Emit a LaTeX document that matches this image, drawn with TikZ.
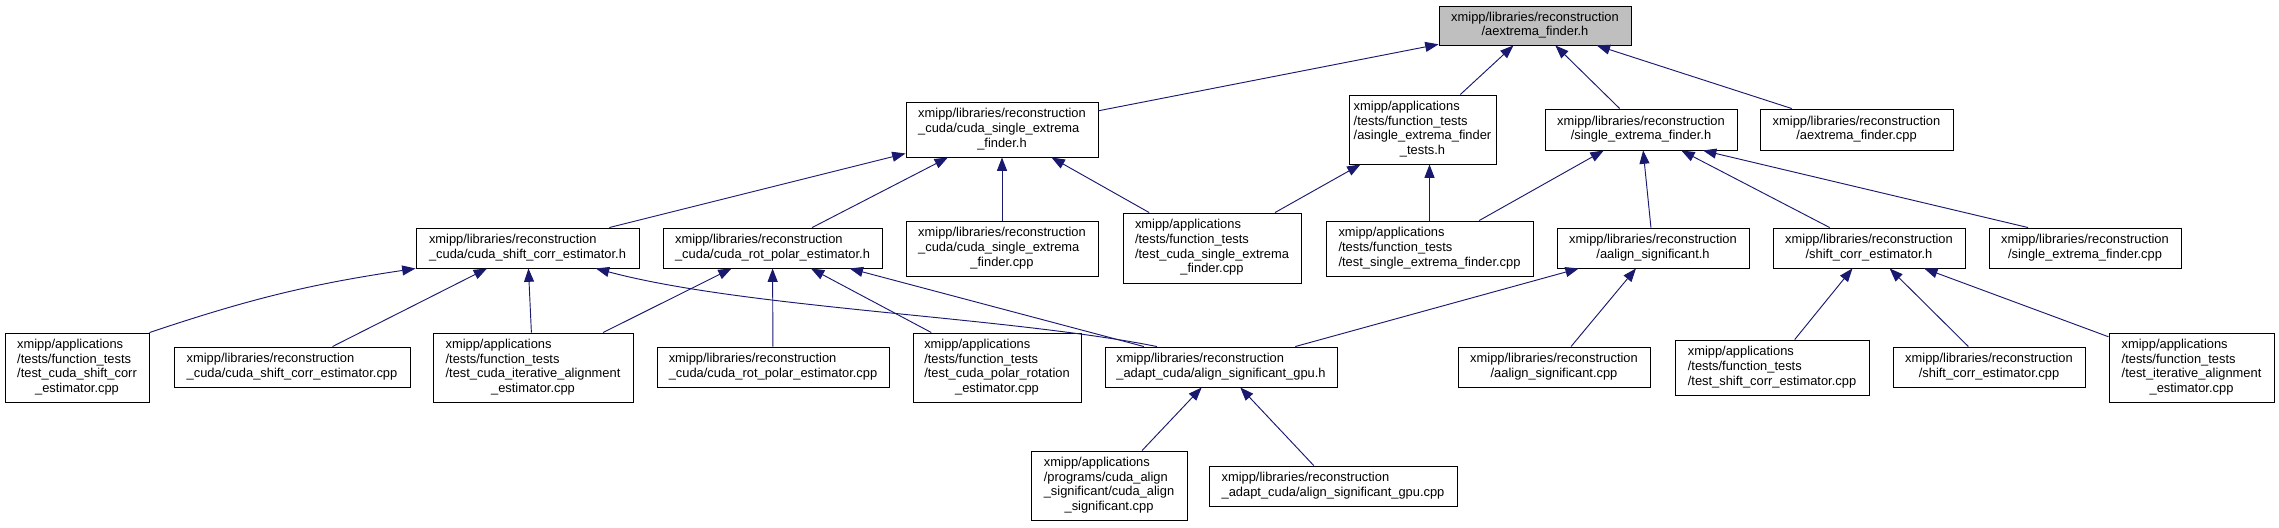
\documentclass[tikz,border=0pt]{standalone}
\usepackage{fontspec}
\setmainfont{Liberation Sans}
\usepackage{tikz}
\usetikzlibrary{arrows.meta}
\definecolor{dEdge}{HTML}{191970}
\definecolor{dGray}{HTML}{BFBFBF}
% file label: lines left aligned, last line centred
\newcommand{\flabel}[1]{\begin{tabular}{@{}l@{}}#1\end{tabular}}
\newcommand{\lastl}[1]{\multicolumn{1}{@{}c@{}}{#1}}
\tikzset{
  fnode/.style={draw=black,fill=white,line width=0.8pt,inner sep=0pt,
    font=\fontsize{11}{12.5}\selectfont},
  h2/.style={minimum height=1.2cm},
  h3/.style={minimum height=1.65cm},
  h4/.style={minimum height=2.07cm},
  dep/.style={-{Triangle[length=0.4cm,width=0.3cm]},color=dEdge,line width=0.8pt},
}
\begin{document}
\begin{tikzpicture}[x=0.03cm,y=-0.03cm]
  \useasboundingbox (0,0) rectangle (2279,527);
  % top
  \node[fnode,fill=dGray,minimum width=5.76cm,minimum height=1.17cm] (aexth) at (1535,25.5) {\flabel{xmipp/libraries/reconstruction\\\lastl{/aextrema\_finder.h}}};
  % row 1
  \node[fnode,h3,minimum width=5.76cm] (cusefh) at (1002,129.5) {\flabel{xmipp/libraries/reconstruction\\\_cuda/cuda\_single\_extrema\\\lastl{\_finder.h}}};
  \node[fnode,h4,minimum width=4.41cm] (asefth) at (1422.5,129.5) {\flabel{xmipp/applications\\/tests/function\_tests\\/asingle\_extrema\_finder\\\lastl{\_tests.h}}};
  \node[fnode,minimum width=5.76cm,minimum height=1.23cm] (sefh) at (1641,129.5) {\flabel{xmipp/libraries/reconstruction\\\lastl{/single\_extrema\_finder.h}}};
  \node[fnode,minimum width=5.79cm,minimum height=1.23cm] (aextcpp) at (1856.5,129.5) {\flabel{xmipp/libraries/reconstruction\\\lastl{/aextrema\_finder.cpp}}};
  % row 2
  \node[fnode,h2,minimum width=6.69cm] (cuscoh) at (527.5,248) {\flabel{xmipp/libraries/reconstruction\\\lastl{\_cuda/cuda\_shift\_corr\_estimator.h}}};
  \node[fnode,h2,minimum width=6.57cm] (curoth) at (772.5,248) {\flabel{xmipp/libraries/reconstruction\\\lastl{\_cuda/cuda\_rot\_polar\_estimator.h}}};
  \node[fnode,h3,minimum width=5.76cm] (cusefcpp) at (1002,248.5) {\flabel{xmipp/libraries/reconstruction\\\_cuda/cuda\_single\_extrema\\\lastl{\_finder.cpp}}};
  \node[fnode,minimum width=5.34cm,minimum height=2.1cm] (tcusef) at (1212,248) {\flabel{xmipp/applications\\/tests/function\_tests\\/test\_cuda\_single\_extrema\\\lastl{\_finder.cpp}}};
  \node[fnode,h3,minimum width=6.21cm] (tsef) at (1429.5,248.5) {\flabel{xmipp/applications\\/tests/function\_tests\\\lastl{/test\_single\_extrema\_finder.cpp}}};
  \node[fnode,h2,minimum width=5.76cm] (aalh) at (1653,248) {\flabel{xmipp/libraries/reconstruction\\\lastl{/aalign\_significant.h}}};
  \node[fnode,h2,minimum width=5.76cm] (scoh) at (1869,248) {\flabel{xmipp/libraries/reconstruction\\\lastl{/shift\_corr\_estimator.h}}};
  \node[fnode,h2,minimum width=5.76cm] (sefcpp) at (2085,248) {\flabel{xmipp/libraries/reconstruction\\\lastl{/single\_extrema\_finder.cpp}}};
  % row 3
  \node[fnode,h4,minimum width=4.32cm] (tcusco) at (77,367.5) {\flabel{xmipp/applications\\/tests/function\_tests\\/test\_cuda\_shift\_corr\\\lastl{\_estimator.cpp}}};
  \node[fnode,h2,minimum width=7.08cm] (cuscocpp) at (292,367) {\flabel{xmipp/libraries/reconstruction\\\lastl{\_cuda/cuda\_shift\_corr\_estimator.cpp}}};
  \node[fnode,h4,minimum width=6.0cm] (tcuiter) at (533,367.5) {\flabel{xmipp/applications\\/tests/function\_tests\\/test\_cuda\_iterative\_alignment\\\lastl{\_estimator.cpp}}};
  \node[fnode,h2,minimum width=6.96cm] (curotcpp) at (773,367) {\flabel{xmipp/libraries/reconstruction\\\lastl{\_cuda/cuda\_rot\_polar\_estimator.cpp}}};
  \node[fnode,h4,minimum width=5.04cm] (tcupolar) at (997,367.5) {\flabel{xmipp/applications\\/tests/function\_tests\\/test\_cuda\_polar\_rotation\\\lastl{\_estimator.cpp}}};
  \node[fnode,h2,minimum width=6.96cm] (asgpuh) at (1221,367) {\flabel{xmipp/libraries/reconstruction\\\lastl{\_adapt\_cuda/align\_significant\_gpu.h}}};
  \node[fnode,h2,minimum width=5.76cm] (aalcpp) at (1554,367) {\flabel{xmipp/libraries/reconstruction\\\lastl{/aalign\_significant.cpp}}};
  \node[fnode,h3,minimum width=5.82cm] (tsco) at (1772,367.5) {\flabel{xmipp/applications\\/tests/function\_tests\\\lastl{/test\_shift\_corr\_estimator.cpp}}};
  \node[fnode,h2,minimum width=5.76cm] (scocpp) at (1989,367) {\flabel{xmipp/libraries/reconstruction\\\lastl{/shift\_corr\_estimator.cpp}}};
  \node[fnode,h4,minimum width=4.95cm] (titer) at (2191.5,367.5) {\flabel{xmipp/applications\\/tests/function\_tests\\/test\_iterative\_alignment\\\lastl{\_estimator.cpp}}};
  % row 4
  \node[fnode,h4,minimum width=4.68cm] (cuasig) at (1109,485.5) {\flabel{xmipp/applications\\/programs/cuda\_align\\\_significant/cuda\_align\\\lastl{\_significant.cpp}}};
  \node[fnode,h2,minimum width=7.44cm] (asgpucpp) at (1333,486) {\flabel{xmipp/libraries/reconstruction\\\lastl{\_adapt\_cuda/align\_significant\_gpu.cpp}}};
  % include edges
  \draw[dep] (cusefh) -- (aexth);
  \draw[dep] (asefth) -- (aexth);
  \draw[dep] (sefh) -- (aexth);
  \draw[dep] (aextcpp) -- (aexth);
  \draw[dep] (cuscoh) -- (cusefh);
  \draw[dep] (curoth) -- (cusefh);
  \draw[dep] (cusefcpp) -- (cusefh);
  \draw[dep] (tcusef) -- (cusefh);
  \draw[dep] (tcusef) -- (asefth);
  \draw[dep] (tsef.north) -- (tsef.north |- asefth.south);
  \draw[dep] (tsef) -- (sefh);
  \draw[dep] (aalh) -- (sefh);
  \draw[dep] (scoh) -- (sefh);
  \draw[dep] ([xshift=-1.71cm]sefcpp.north) -- ([xshift=1.86cm]sefh.south);
  \draw[dep] (tcusco.north east) to[bend left=5] (cuscoh.south west);
  \draw[dep] (cuscocpp) -- (cuscoh);
  \draw[dep] (tcuiter) -- (cuscoh);
  \draw[dep] ([xshift=-1.92cm]asgpuh.north) .. controls +(-150,-30) and +(150,40) .. ([xshift=2.05cm]cuscoh.south);
  \draw[dep] (tcuiter) -- (curoth);
  \draw[dep] (curotcpp) -- (curoth);
  \draw[dep] (tcupolar) -- (curoth);
  \draw[dep] (asgpuh) -- (curoth);
  \draw[dep] (asgpuh) -- (aalh);
  \draw[dep] (aalcpp) -- (aalh);
  \draw[dep] (tsco) -- (scoh);
  \draw[dep] (scocpp) -- (scoh);
  \draw[dep] (titer) -- (scoh);
  \draw[dep] (cuasig) -- (asgpuh);
  \draw[dep] (asgpucpp) -- (asgpuh);
\end{tikzpicture}
\end{document}
